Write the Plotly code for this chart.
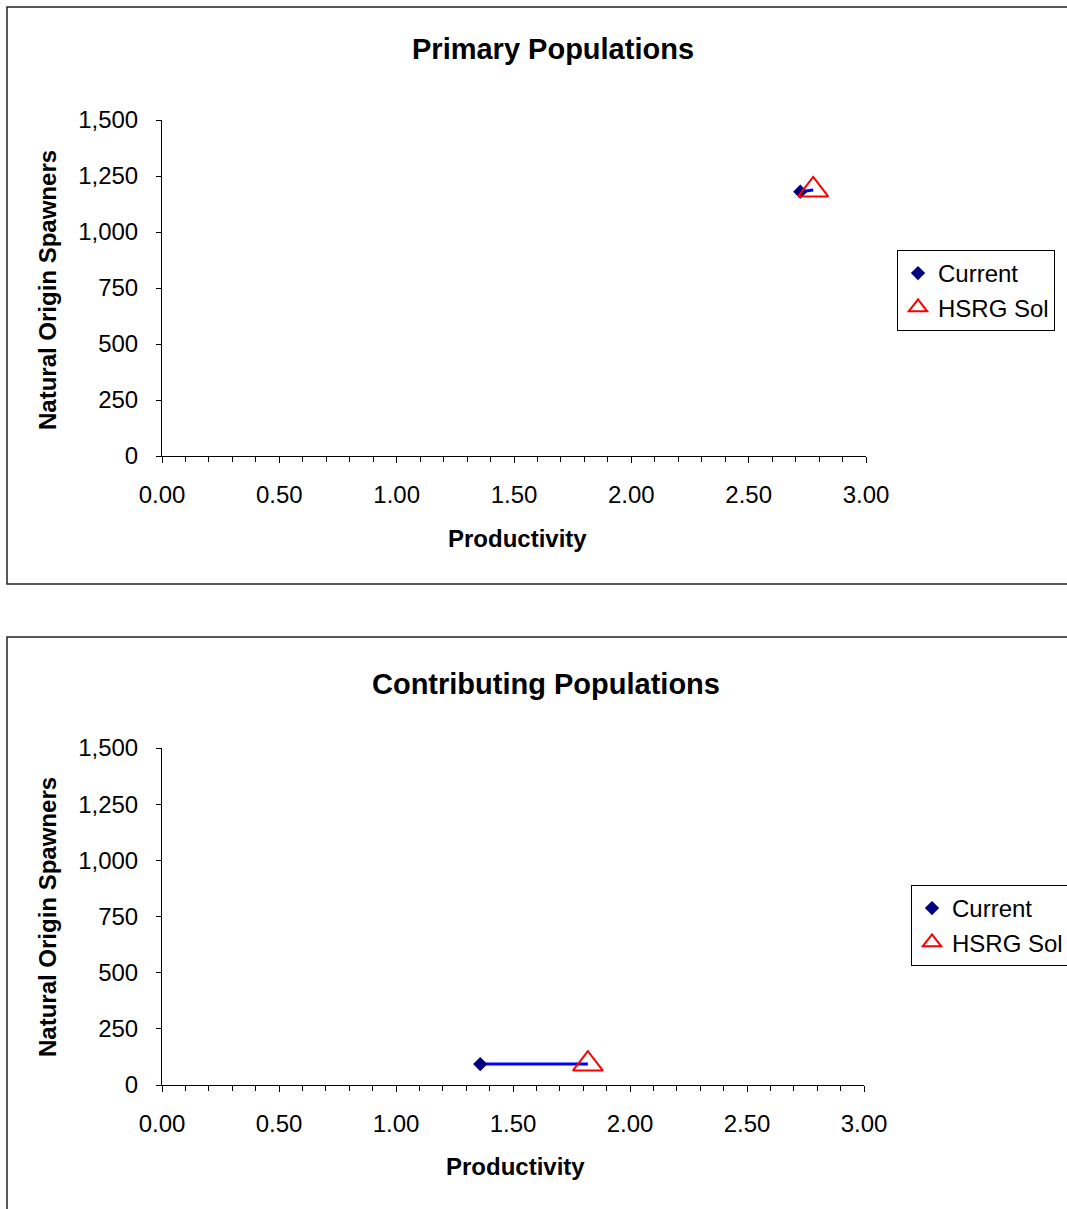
import plotly.graph_objects as go

# Data
titles = ["Primary Populations", "Contributing Populations"]
current_x = [2.72, 1.36]
current_y = [1180, 93]
hsrg_x = [2.775, 1.82]
hsrg_y = [1188, 93]
x_ticks = [0, 0.5, 1.0, 1.5, 2.0, 2.5, 3.0]
y_ticks = [0, 250, 500, 750, 1000, 1250, 1500]

W, H = 1067, 1209
FONT = "Liberation Sans, Arial, sans-serif"
FS = 24

def px(x):
    return x / W

def py(y):
    return 1 - y / H

fig = go.Figure()

panels = [
    dict(xd=[px(162), px(866)], yd=[py(456), py(120)], title_y=49, xt=(517, 538), yt=(47, 290),
         legend=dict(x=px(897), y=py(250)), box=(7, 7, 1075, 584)),
    dict(xd=[px(162), px(864)], yd=[py(1085), py(748)], title_y=684, xt=(515, 1166), yt=(47, 917),
         legend=dict(x=px(911), y=py(885)), box=(7, 637, 1075, 1225)),
]

annotations = []
shapes = []
for i, p in enumerate(panels):
    xa = "x" if i == 0 else "x2"
    ya = "y" if i == 0 else "y2"
    lg = "legend" if i == 0 else "legend2"
    fig.add_trace(go.Scatter(x=[current_x[i], hsrg_x[i]], y=[current_y[i], hsrg_y[i]], mode="lines",
                             line=dict(color="#0000FF", width=3), showlegend=False,
                             xaxis=xa, yaxis=ya, hoverinfo="skip"))
    fig.add_trace(go.Scatter(x=[current_x[i]], y=[current_y[i]], mode="markers", name="Current",
                             marker=dict(symbol="diamond", color="#000080", size=11),
                             xaxis=xa, yaxis=ya, legend=lg))
    fig.add_trace(go.Scatter(x=[hsrg_x[i]], y=[hsrg_y[i]], mode="markers", name="HSRG Sol",
                             marker=dict(symbol="triangle-up-open", color="#FF0000", size=26,
                                         line=dict(width=2, color="#FF0000")),
                             xaxis=xa, yaxis=ya, legend=lg))
    sfx = "" if i == 0 else "2"
    osfx = str(3 + i)
    fig.update_layout(**{
        "xaxis" + sfx: dict(domain=p["xd"], range=[0, 3], tickvals=x_ticks,
                             ticktext=[f"{v:.2f}" for v in x_ticks],
                             showgrid=False, zeroline=False, showline=True, linecolor="black", linewidth=1,
                             ticks="outside", ticklen=6, tickcolor="black", ticklabelstandoff=11,
                             minor=dict(ticks="outside", dtick=0.1, ticklen=5, tickcolor="black", showgrid=False),
                             tickfont=dict(family=FONT, size=FS, color="black"),
                             anchor=ya, fixedrange=True, automargin=False),
        # overlay axis to make the major ticks cross the axis line
        "xaxis" + osfx: dict(overlaying=xa, anchor=ya, range=[0, 3], tickvals=x_ticks,
                              showticklabels=False, showgrid=False, zeroline=False, showline=False,
                              ticks="inside", ticklen=5, tickcolor="black", fixedrange=True,
                              automargin=False),
        "yaxis" + sfx: dict(domain=p["yd"], range=[0, 1500], tickvals=y_ticks,
                             ticktext=[f"{v:,}" for v in y_ticks],
                             showgrid=False, zeroline=False, showline=True, linecolor="black", linewidth=1,
                             ticks="outside", ticklen=5, tickcolor="black", ticklabelstandoff=13,
                             tickfont=dict(family=FONT, size=FS, color="black"),
                             anchor=xa, fixedrange=True, automargin=False),
        lg: dict(x=p["legend"]["x"], y=p["legend"]["y"], xanchor="left", yanchor="top",
                 bordercolor="black", borderwidth=1, bgcolor="white",
                 font=dict(family=FONT, size=FS, color="black"), itemwidth=30,
                 tracegroupgap=0),
    })
    annotations.append(dict(text=f"<b>{titles[i]}</b>", x=px(553 if i == 0 else 546), y=py(p["title_y"]),
                            xref="paper", yref="paper", showarrow=False, xanchor="center", yanchor="middle",
                            font=dict(family=FONT, size=29, color="black")))
    annotations.append(dict(text="<b>Productivity</b>", x=px(p["xt"][0]), y=py(p["xt"][1]),
                            xref="paper", yref="paper", showarrow=False, xanchor="center", yanchor="middle",
                            font=dict(family=FONT, size=FS, color="black")))
    annotations.append(dict(text="<b>Natural Origin Spawners</b>", x=px(p["yt"][0]), y=py(p["yt"][1]),
                            xref="paper", yref="paper", showarrow=False, xanchor="center", yanchor="middle",
                            textangle=-90, font=dict(family=FONT, size=FS, color="black")))
    bx = p["box"]
    shapes.append(dict(type="rect", xref="paper", yref="paper", x0=px(bx[0]), x1=px(bx[2]),
                       y0=py(bx[3]), y1=py(bx[1]), line=dict(color="#222222", width=1.5), layer="below"))

fig.update_layout(width=W, height=H, margin=dict(l=0, r=0, t=0, b=0, pad=0, autoexpand=False),
                  paper_bgcolor="white", plot_bgcolor="white",
                  annotations=annotations, shapes=shapes, showlegend=True)

fig.write_html("out.html", config={"displayModeBar": False},
               post_script="document.body.style.margin='0';document.body.style.overflow='hidden';")
